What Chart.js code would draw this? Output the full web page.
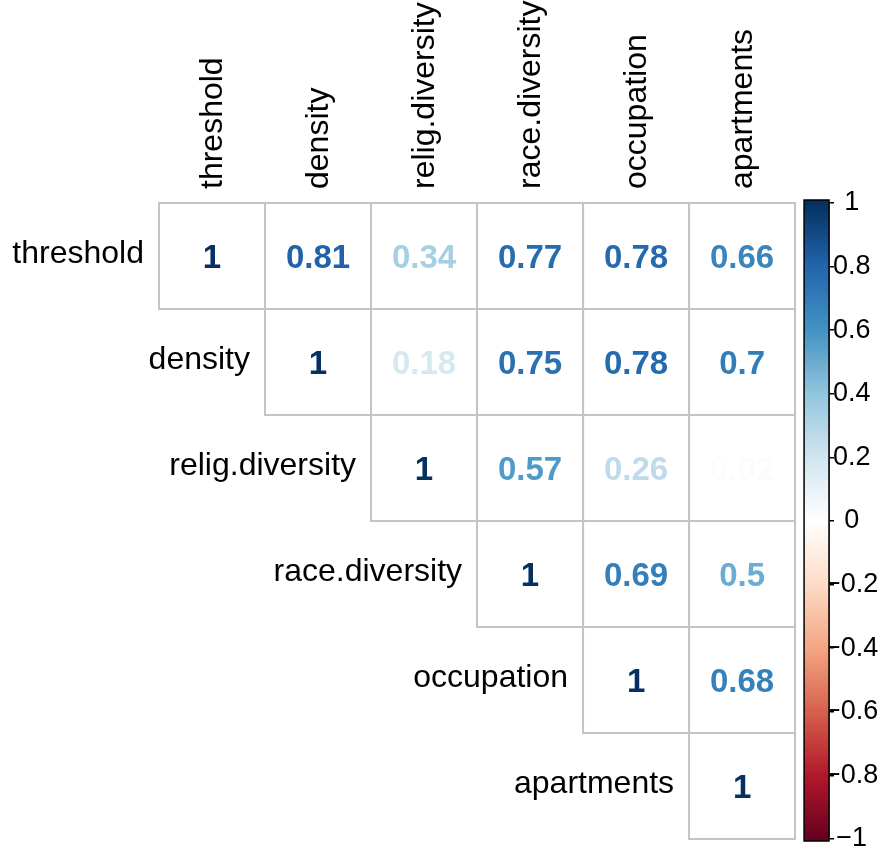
<!DOCTYPE html>
<html>
<head>
<meta charset="utf-8">
<script src="https://cdn.jsdelivr.net/npm/chart.js@4/dist/chart.umd.min.js"></script>
<style>
  html, body { margin: 0; padding: 0; background: #ffffff; }
  #wrap { width: 881px; height: 849px; }
</style>
</head>
<body>
<div id="wrap"><canvas id="corr" width="881" height="849"></canvas></div>
<script>
// Variable names (rows and columns of the correlation matrix)
const variables = ['threshold', 'density', 'relig.diversity', 'race.diversity', 'occupation', 'apartments'];

// Upper-triangle correlations, one array per row, starting at the diagonal
const corThreshold   = [1, 0.81, 0.34, 0.77, 0.78, 0.66];
const corDensity     = [1, 0.18, 0.75, 0.78, 0.7];
const corReligDiv    = [1, 0.57, 0.26, 0.02];
const corRaceDiv     = [1, 0.69, 0.5];
const corOccupation  = [1, 0.68];
const corApartments  = [1];

// Colour-bar ticks
const colorbarTicks = [-1, -0.8, -0.6, -0.4, -0.2, 0, 0.2, 0.4, 0.6, 0.8, 1];

// Diverging red-blue palette, from -1 to 1
const paletteStops = ['#67001F', '#B2182B', '#D6604D', '#F4A582', '#FDDBC7', '#FFFFFF',
                      '#D1E5F0', '#92C5DE', '#4393C3', '#2166AC', '#053061'];

const rows = [corThreshold, corDensity, corReligDiv, corRaceDiv, corOccupation, corApartments];

function hexToRgb(h) {
  return [parseInt(h.slice(1, 3), 16), parseInt(h.slice(3, 5), 16), parseInt(h.slice(5, 7), 16)];
}
function colorFor(v) {
  const t = (Math.max(-1, Math.min(1, v)) + 1) / 2 * (paletteStops.length - 1);
  const i = Math.min(paletteStops.length - 2, Math.floor(t));
  const f = t - i;
  const a = hexToRgb(paletteStops[i]), b = hexToRgb(paletteStops[i + 1]);
  const c = a.map((x, k) => Math.round(x + (b[k] - x) * f));
  return 'rgb(' + c.join(',') + ')';
}
function fmtTick(v) {
  const r = Math.round(v * 10) / 10;
  return r < 0 ? '\u2212' + Math.abs(r) : String(r);
}

// One point per upper-triangle cell: x = column, y = row
const points = [];
rows.forEach((vals, i) => {
  vals.forEach((v, k) => points.push({ x: i + k, y: i, v: v }));
});

const FONT = '"Liberation Sans", Arial, Helvetica, sans-serif';

const corrPlot = {
  id: 'corrPlot',
  afterDatasetsDraw(chart) {
    const ctx = chart.ctx;
    const xs = chart.scales.x, ys = chart.scales.y, yc = chart.scales.yc;
    const meta = chart.getDatasetMeta(0);
    const half = Math.abs(xs.getPixelForValue(0.5) - xs.getPixelForValue(0));
    const halfY = Math.abs(ys.getPixelForValue(0.5) - ys.getPixelForValue(0));

    ctx.save();
    // cell borders
    ctx.strokeStyle = '#c4c4c4';
    ctx.lineWidth = 2;
    meta.data.forEach(el => {
      ctx.strokeRect(el.x - half, el.y - halfY, half * 2, halfY * 2);
    });
    // cell values
    ctx.font = 'bold 33px ' + FONT;
    ctx.textAlign = 'center';
    ctx.textBaseline = 'alphabetic';
    meta.data.forEach((el, idx) => {
      const v = points[idx].v;
      ctx.fillStyle = colorFor(v);
      ctx.fillText(String(v), el.x, el.y + 12);
    });

    // row labels, left of each diagonal cell
    ctx.font = '32px ' + FONT;
    ctx.fillStyle = '#000000';
    ctx.textAlign = 'right';
    variables.forEach((name, i) => {
      const x = xs.getPixelForValue(i - 0.5) - 15;
      const y = ys.getPixelForValue(i);
      ctx.fillText(name, x, y + 7);
    });

    // column labels, rotated above the grid
    ctx.textAlign = 'left';
    variables.forEach((name, j) => {
      const x = xs.getPixelForValue(j);
      const y = ys.getPixelForValue(-0.5) - 14;
      ctx.save();
      ctx.translate(x + 10, y);
      ctx.rotate(-Math.PI / 2);
      ctx.fillText(name, 0, 0);
      ctx.restore();
    });

    // colour bar
    const barRight = yc.left;
    const barLeft = xs.getPixelForValue(5.5) + 9;
    const top = yc.getPixelForValue(1), bottom = yc.getPixelForValue(-1);
    const grad = ctx.createLinearGradient(0, bottom, 0, top);
    paletteStops.forEach((c, k) => grad.addColorStop(k / (paletteStops.length - 1), c));
    ctx.fillStyle = grad;
    ctx.fillRect(barLeft, top - 3, barRight - barLeft, bottom - top + 5);
    ctx.strokeStyle = '#000000';
    ctx.lineWidth = 1.5;
    ctx.strokeRect(barLeft, top - 3, barRight - barLeft, bottom - top + 5);
    ctx.restore();
  }
};

new Chart(document.getElementById('corr'), {
  type: 'scatter',
  data: {
    datasets: [{ data: points, pointRadius: 0, pointHoverRadius: 0 }]
  },
  options: {
    responsive: false,
    animation: false,
    events: [],
    layout: { padding: { left: 159, top: 203, right: 0, bottom: 10 } },
    plugins: { legend: { display: false }, tooltip: { enabled: false } },
    scales: {
      x: { type: 'linear', min: -0.5, max: 5.82, display: false },
      y: { type: 'linear', min: -0.5, max: 5.5, reverse: true, display: false },
      yc: {
        type: 'linear',
        position: 'right',
        min: -1,
        max: 1,
        afterBuildTicks: (scale) => { scale.ticks = colorbarTicks.map(v => ({ value: v })); },
        afterFit: (scale) => { scale.width = 52; },
        grid: { drawOnChartArea: false, tickLength: 5, color: '#000000', lineWidth: 1.5 },
        border: { display: true, color: '#000000', width: 1.5 },
        ticks: {
          autoSkip: false,
          crossAlign: 'center',
          padding: -9,
          color: '#000000',
          font: { family: FONT, size: 27 },
          callback: (v) => fmtTick(v)
        }
      }
    }
  },
  plugins: [corrPlot]
});
</script>
</body>
</html>
